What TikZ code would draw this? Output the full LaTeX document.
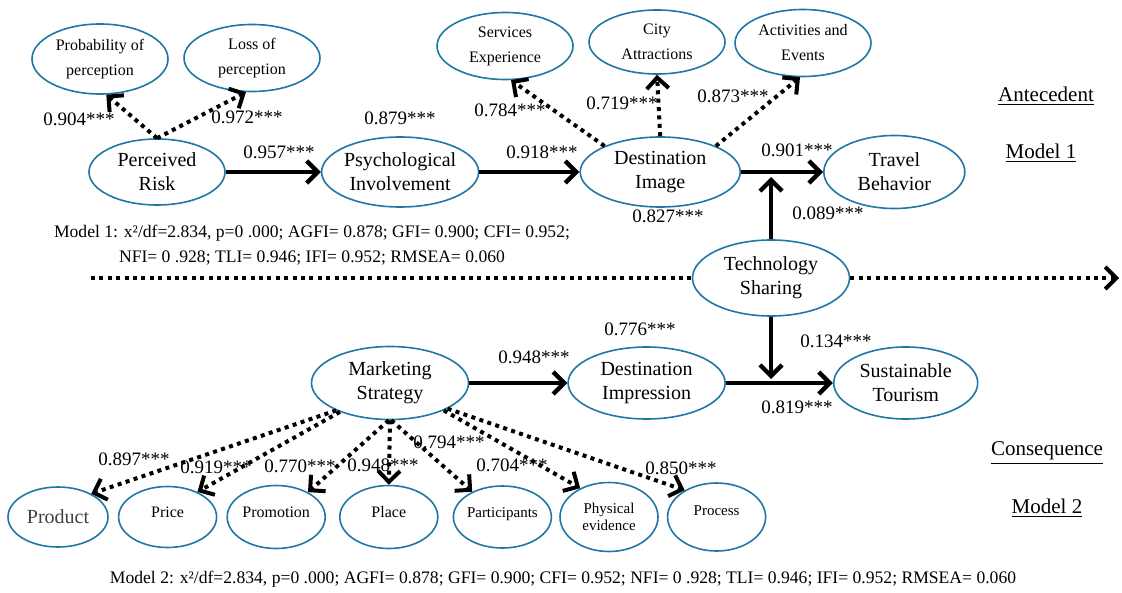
\documentclass[tikz,border=0pt]{standalone}
\usepackage{fontspec}
\setmainfont{Liberation Serif}
\usetikzlibrary{shapes.geometric, arrows.meta, positioning}
\definecolor{ellblue}{RGB}{31,119,166}
\definecolor{prodgray}{RGB}{64,64,64}

\begin{document}
\begin{tikzpicture}[x=0.5pt, y=-0.5pt,
  lat/.style={ellipse, draw=ellblue, line width=0.8pt, inner xsep=-8pt, inner ysep=-3pt, align=center, minimum width=78.5pt, minimum height=35pt, font=\fontsize{10}{12}\selectfont},
  ind/.style={lat, minimum width=68pt, minimum height=33.5pt, font=\fontsize{8}{12.5}\selectfont},
  mix/.style={lat, minimum width=49pt, minimum height=31pt, font=\fontsize{8}{9.5}\selectfont},
  coef/.style={font=\fontsize{9.5}{11}\selectfont, inner sep=0pt},
  tag/.style={font=\fontsize{10.5}{12}\selectfont, inner sep=0pt},
  note/.style={font=\fontsize{8.8}{12.5}\selectfont, align=center, inner sep=0pt},
  arr/.style={-{Straight Barb[length=5.5pt, width=11pt]}, line width=2.2pt},
  darr/.style={arr, line width=2pt, dash pattern=on 2pt off 2.2pt},
]
\useasboundingbox (0,0) rectangle (1122,593);
% Model 1 chain
\node[lat, minimum width=68pt, minimum height=33pt] (risk) at (157,172) {Perceived\\Risk};
\node[lat, right=47.5pt of risk] (psych) {Psychological\\Involvement};
\node[lat, minimum width=80pt, right=50pt of psych] (image) {Destination\\Image};
\node[lat, minimum width=70.5pt, minimum height=36.5pt, right=41pt of image] (travel) {Travel\\Behavior};
% Indicators of model 1
\node[ind, minimum height=35pt] (prob) at (100,59) {Probability of\\perception};
\node[ind] (loss) at (252,58) {Loss of\\perception};
\node[ind] (serv) at (505,46) {Services\\Experience};
\node[ind, minimum height=32pt] (city) at (657,42) {City\\Attractions};
\node[ind] (activ) at (803,43) {Activities and\\Events};
% Moderator
\node[lat, minimum height=38pt] (tech) at (771,278) {Technology\\Sharing};
% Model 2 chain
\node[lat, minimum height=36.5pt] (mkt) at (390,383) {Marketing\\Strategy};
\node[lat, minimum height=36pt, right=49pt of mkt] (impr) {Destination\\Impression};
\node[lat, minimum width=72pt, minimum height=36pt, right=53.5pt of impr] (sust) {Sustainable\\Tourism};
% 7P indicators
\node[mix, minimum width=50pt, minimum height=30pt, font=\fontsize{10}{12}\selectfont, text=prodgray] (prod) at (58,517) {Product};
\node[mix, minimum height=30.5pt, right=4.5pt of prod] (price) {\raisebox{5pt}{Price}};
\node[mix, minimum height=31.5pt, right=4.5pt of price] (promo) {\raisebox{5pt}{Promotion}};
\node[mix, minimum height=31.5pt, right=6.5pt of promo] (place) {\raisebox{5pt}{Place}};
\node[mix, minimum height=31pt, font=\fontsize{7.5}{9}\selectfont, right=7pt of place] (part) {\raisebox{4pt}{Participants}};
\node[mix, minimum height=34.5pt, font=\fontsize{7.5}{8.5}\selectfont, right=3.5pt of part] (phys) {Physical\\evidence};
\node[mix, minimum height=34pt, font=\fontsize{7.5}{9}\selectfont, right=4pt of phys] (proc) {\raisebox{6pt}{Process}};

% Free ends
\coordinate (hl) at (91,278);
\coordinate (hr) at (1119,278);
\coordinate (tup) at (771,177);
\coordinate (tdown) at (771,379);

% Structural paths
\draw[arr] (risk.east) -- (psych.west);
\draw[arr] (psych.east) -- (image.west);
\draw[arr] (image.east) -- (travel.west);
\draw[arr] (mkt.east) -- (impr.west);
\draw[arr] (impr.east) -- (sust.west);
\draw[arr] (tech.north) -- (tup);
\draw[arr] (tech.south) -- (tdown);
% Loadings (dotted)
\draw[darr] (risk.north) -- (prob.-80);
\draw[darr] (risk.north) -- (loss.-100);
\draw[darr] (image.155) -- (serv.-80);
\draw[darr] (image.north) -- (city.south);
\draw[darr] (image.25) -- (activ.-95);
\draw[darr] (mkt.-153) -- (prod.35);
\draw[darr] (mkt.-150) -- (price.40);
\draw[darr] (mkt.-92) -- (promo.38);
\draw[darr] (mkt.-90) -- (place.north);
\draw[darr] (mkt.-88) -- (part.140);
\draw[darr] (mkt.-27) -- (phys.135);
\draw[darr] (mkt.-24) -- (proc.140);
% Divider
\draw[darr, -] (hl) -- (tech.west);
\draw[darr] (tech.east) -- (hr);

% Coefficients
\node[coef] (c1) at (79,119) {0.904***};
\node[coef] (c2) at (247,117) {0.972***};
\node[coef] (c3) at (279,152) {0.957***};
\node[coef] (c4) at (400,118) {0.879***};
\node[coef] (c5) at (542,152) {0.918***};
\node[coef] (c6) at (510,110) {0.784***};
\node[coef] (c7) at (622,103) {0.719***};
\node[coef] (c8) at (733,96) {0.873***};
\node[coef] (c9) at (668,216) {0.827***};
\node[coef] (c10) at (797,150) {0.901***};
\node[coef] (c11) at (828,213) {0.089***};
\node[coef] (c12) at (640,329) {0.776***};
\node[coef] (c13) at (836,341) {0.134***};
\node[coef] (c14) at (534,357) {0.948***};
\node[coef] (c15) at (797,407) {0.819***};
\node[coef] (c16) at (134,459) {0.897***};
\node[coef] (c17) at (216,467) {0.919***};
\node[coef] (c18) at (300,466) {0.770***};
\node[coef] (c19) at (383,465) {0.948***};
\node[coef] (c20) at (449,442) {0.794***};
\node[coef] (c21) at (512,465) {0.704***};
\node[coef] (c22) at (681,468) {0.850***};

% Model tags and fit indices
\node[tag] (ante) at (1046,96) {\underline{Antecedent}};
\node[tag] (m1) at (1041,153) {\underline{Model 1}};
\node[tag] (cons) at (1047,453) {\underline{Consequence}};
\node[tag] (m2) at (1047,508) {\underline{Model 2}};
\node[note] (fit1) at (312,245) {Model 1: x²/df=2.834, p=0 .000; AGFI= 0.878; GFI= 0.900; CFI= 0.952;\\NFI= 0 .928; TLI= 0.946; IFI= 0.952; RMSEA= 0.060};
\node[note] (fit2) at (563,579) {Model 2: x²/df=2.834, p=0 .000; AGFI= 0.878; GFI= 0.900; CFI= 0.952; NFI= 0 .928; TLI= 0.946; IFI= 0.952; RMSEA= 0.060};
\end{tikzpicture}
\end{document}
